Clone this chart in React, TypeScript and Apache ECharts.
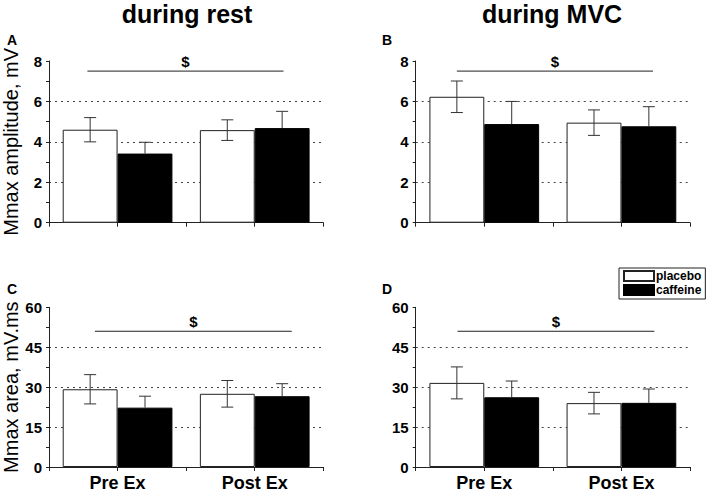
import React, { useEffect, useRef } from "react";
import * as echarts from "echarts";

const categories = ["Pre Ex", "Post Ex"];
const seriesNames = ["placebo", "caffeine"];

// Panel A: Mmax amplitude during rest (mV)
const aPlaceboMean = [4.6, 4.58];
const aPlaceboSd = [0.6, 0.51];
const aCaffeineMean = [3.42, 4.68];
const aCaffeineSd = [0.56, 0.83];
// Panel B: Mmax amplitude during MVC (mV)
const bPlaceboMean = [6.23, 4.95];
const bPlaceboSd = [0.78, 0.63];
const bCaffeineMean = [4.88, 4.77];
const bCaffeineSd = [1.12, 0.97];
// Panel C: Mmax area during rest (mV.ms)
const cPlaceboMean = [29.2, 27.5];
const cPlaceboSd = [5.5, 5.0];
const cCaffeineMean = [22.3, 26.6];
const cCaffeineSd = [4.3, 4.7];
// Panel D: Mmax area during MVC (mV.ms)
const dPlaceboMean = [31.6, 24.0];
const dPlaceboSd = [6.0, 4.05];
const dCaffeineMean = [26.2, 24.1];
const dCaffeineSd = [6.1, 5.2];

// significance bar level and span (in category units, 0 = Pre Ex centre, 1 = Post Ex centre)
const sigLevel = [7.5, 7.5, 51, 51];
const sigSpan = [
  [-0.22, 1.21],
  [-0.2, 1.23],
  [-0.165, 1.27],
  [-0.195, 1.24],
];

const yMax = [8, 8, 60, 60];
const yInterval = [2, 2, 15, 15];
const panelLetters = ["A", "B", "C", "D"];
const columnTitles = ["during rest", "during MVC"];
const yTitles = ["Mmax amplitude, mV", "Mmax area, mV.ms"];

const FONT = "'Liberation Sans', Arial, Helvetica, sans-serif";

export default function App() {
  const ref = useRef<HTMLDivElement>(null);

  useEffect(() => {
    if (!ref.current) return;
    const chart = echarts.init(ref.current, undefined, { renderer: "svg" });

    const panels = [
      { pm: aPlaceboMean, ps: aPlaceboSd, cm: aCaffeineMean, cs: aCaffeineSd },
      { pm: bPlaceboMean, ps: bPlaceboSd, cm: bCaffeineMean, cs: bCaffeineSd },
      { pm: cPlaceboMean, ps: cPlaceboSd, cm: cCaffeineMean, cs: cCaffeineSd },
      { pm: dPlaceboMean, ps: dPlaceboSd, cm: dCaffeineMean, cs: dCaffeineSd },
    ];

    const gridLeft = [49, 415.7, 49, 415.7];
    const gridTop = [61, 61, 307.3, 307.3];
    const gridW = 274.3;
    const gridH = 161.7;

    const grids = panels.map((_, i) => ({
      left: gridLeft[i],
      top: gridTop[i],
      width: gridW,
      height: gridH,
      containLabel: false,
    }));

    const xAxes: any[] = [];
    panels.forEach((_, i) => {
      const bottomRow = i >= 2;
      xAxes.push({
        type: "category",
        gridIndex: i,
        data: categories,
        axisLine: { show: true, lineStyle: { color: "#222", width: 1 } },
        axisTick: { show: true, alignWithLabel: true, length: 4, lineStyle: { color: "#222" } },
        axisLabel: {
          show: bottomRow,
          color: "#000",
          fontFamily: FONT,
          fontWeight: "bold",
          fontSize: 18,
          margin: 7,
        },
        splitLine: { show: false },
      });
    });
    panels.forEach((_, i) => {
      xAxes.push({
        type: "category",
        gridIndex: i,
        data: categories,
        position: "bottom",
        axisLine: { show: false },
        axisTick: { show: true, length: 4, lineStyle: { color: "#222" } },
        axisLabel: { show: false },
        splitLine: { show: false },
      });
    });

    const yAxes = panels.map((_, i) => ({
      type: "value",
      gridIndex: i,
      min: 0,
      max: yMax[i],
      interval: yInterval[i],
      name: i % 2 === 0 ? yTitles[i / 2] : "",
      nameLocation: "middle",
      nameGap: 28,
      nameTextStyle: { fontFamily: FONT, fontSize: 20, color: "#000" },
      axisLine: { show: true, lineStyle: { color: "#222", width: 1 } },
      axisTick: { show: true, length: 3, lineStyle: { color: "#222" } },
      minorTick: { show: true, splitNumber: 2, length: 3, lineStyle: { color: "#222" } },
      axisLabel: {
        color: "#000",
        fontFamily: FONT,
        fontWeight: "bold",
        fontSize: 15,
        margin: 7,
      },
      splitLine: {
        show: true,
        showMinLine: false,
        showMaxLine: false,
        lineStyle: { color: "#444", type: [2, 4], width: 1 },
      },
    }));

    const series: any[] = [];
    panels.forEach((p, i) => {
      series.push({
        name: seriesNames[0],
        type: "bar",
        xAxisIndex: i,
        yAxisIndex: i,
        data: p.pm,
        barGap: "0%",
        barCategoryGap: "20%",
        itemStyle: { color: "#fff", borderColor: "#222", borderWidth: 1 },
        z: 2,
      });
      series.push({
        name: seriesNames[1],
        type: "bar",
        xAxisIndex: i,
        yAxisIndex: i,
        data: p.cm,
        barGap: "0%",
        barCategoryGap: "20%",
        itemStyle: { color: "#000", borderColor: "#000", borderWidth: 1 },
        z: 2,
      });
      [
        { mean: p.pm, sd: p.ps, off: -0.2, lower: true },
        { mean: p.cm, sd: p.cs, off: 0.2, lower: false },
      ].forEach((g) => {
        series.push({
          type: "custom",
          xAxisIndex: i,
          yAxisIndex: i,
          z: 3,
          silent: true,
          data: g.mean.map((m, k) => [k, m - g.sd[k], m, m + g.sd[k]]),
          renderItem: (params: any, api: any) => {
            const cat = api.value(0);
            const lo = api.coord([cat, api.value(1)]);
            const mid = api.coord([cat, api.value(2)]);
            const hi = api.coord([cat, api.value(3)]);
            const bw = api.size([1, 0])[0];
            const x = lo[0] + g.off * bw;
            const cap = 6;
            const st = { stroke: "#333", lineWidth: 1 };
            const children: any[] = [
              { type: "line", shape: { x1: x, y1: g.lower ? lo[1] : mid[1], x2: x, y2: hi[1] }, style: st },
              { type: "line", shape: { x1: x - cap, y1: hi[1], x2: x + cap, y2: hi[1] }, style: st },
            ];
            if (g.lower) {
              children.push({ type: "line", shape: { x1: x - cap, y1: lo[1], x2: x + cap, y2: lo[1] }, style: st });
            }
            return { type: "group", children };
          },
        });
      });
      // significance bar with "$"
      series.push({
        type: "custom",
        xAxisIndex: i,
        yAxisIndex: i,
        z: 3,
        silent: true,
        data: [[0, sigLevel[i]]],
        renderItem: (params: any, api: any) => {
          const p0 = api.coord([0, api.value(1)]);
          const p1 = api.coord([1, api.value(1)]);
          const d = p1[0] - p0[0];
          const x1 = p0[0] + sigSpan[i][0] * d;
          const x2 = p0[0] + sigSpan[i][1] * d;
          const y = p0[1];
          return {
            type: "group",
            children: [
              { type: "line", shape: { x1, y1: y, x2, y2: y }, style: { stroke: "#222", lineWidth: 1 } },
              {
                type: "text",
                x: (x1 + x2) / 2,
                y: y - 2,
                style: {
                  text: "$",
                  fill: "#000",
                  font: `bold 15px ${FONT}`,
                  textAlign: "center",
                  textVerticalAlign: "bottom",
                },
              },
            ],
          };
        },
      });
    });

    const letterPos = [
      [7, 33],
      [382, 33],
      [7, 282],
      [382, 282],
    ];

    const graphics: any[] = [];
    columnTitles.forEach((t, c) => {
      graphics.push({
        type: "text",
        x: c === 0 ? 187 : 552,
        y: 14,
        style: {
          text: t,
          fill: "#000",
          font: `bold 25px ${FONT}`,
          textAlign: "center",
          textVerticalAlign: "middle",
        },
      });
    });
    panelLetters.forEach((l, i) => {
      graphics.push({
        type: "text",
        x: letterPos[i][0],
        y: letterPos[i][1],
        style: {
          text: l,
          fill: "#000",
          font: `bold 14px ${FONT}`,
          textAlign: "left",
          textVerticalAlign: "top",
        },
      });
    });

    chart.setOption({
      animation: false,
      backgroundColor: "#fff",
      grid: grids,
      xAxis: xAxes,
      yAxis: yAxes,
      legend: {
        data: seriesNames,
        orient: "vertical",
        left: 619,
        top: 268,
        itemWidth: 30,
        itemHeight: 10,
        itemGap: 2,
        icon: "rect",
        padding: [2, 4, 3, 4],
        borderColor: "#222",
        borderWidth: 1,
        textStyle: { fontFamily: FONT, fontWeight: "bold", fontSize: 12, color: "#000", padding: [0, 0, 0, -3] },
      },
      graphic: graphics,
      series,
    });

    return () => chart.dispose();
  }, []);

  return (
    <div
      ref={ref}
      style={{ position: "absolute", left: 0, top: 0, width: 710, height: 492 }}
    />
  );
}
